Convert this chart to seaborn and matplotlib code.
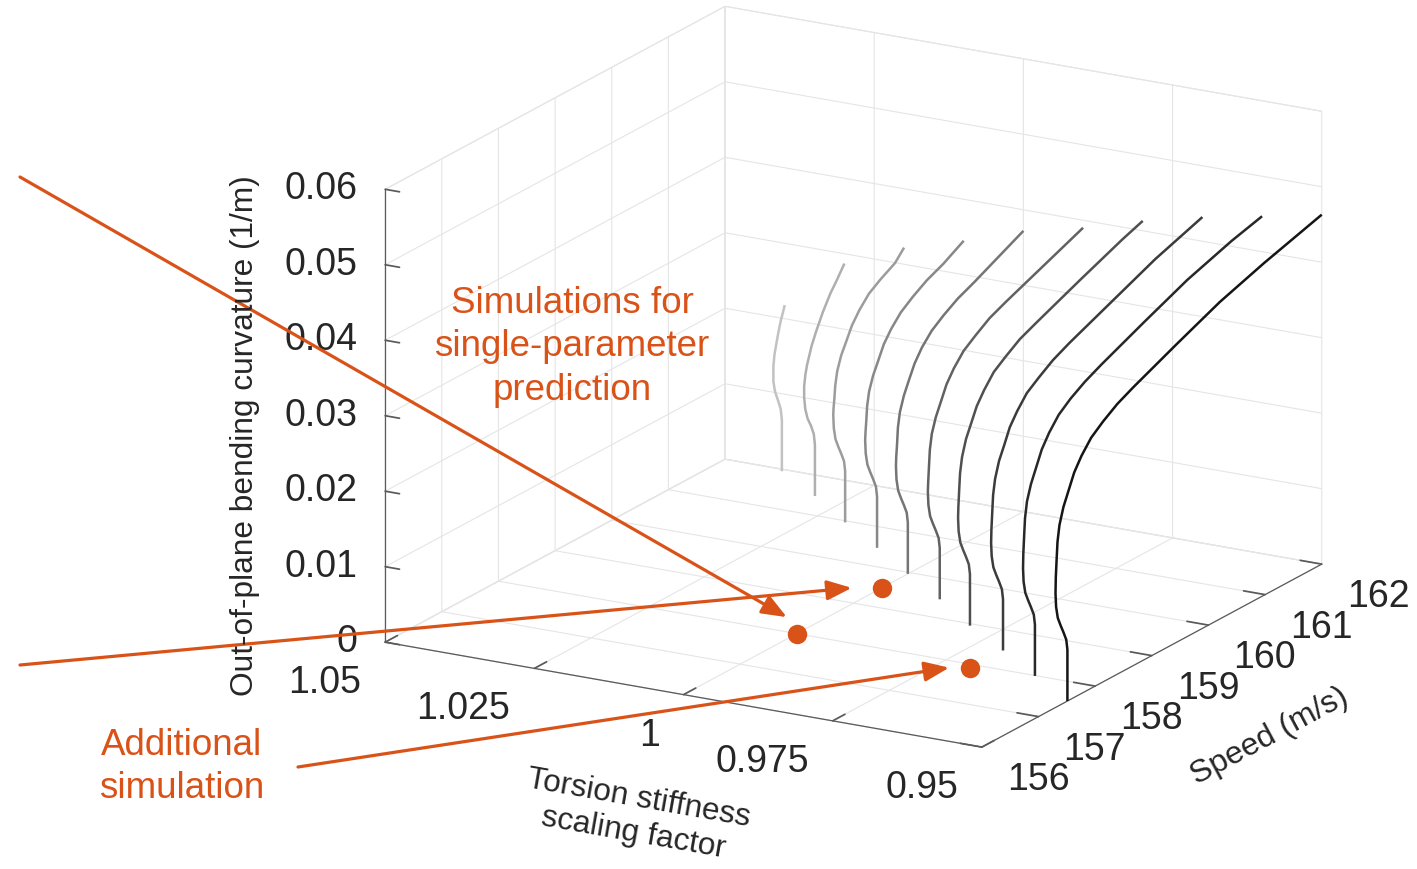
import numpy as np
import matplotlib
matplotlib.use("Agg")
import matplotlib.pyplot as plt
import seaborn as sns
from mpl_toolkits.mplot3d import proj3d

sns.set_theme(style="white")
plt.rcParams["font.family"] = ["Liberation Sans", "DejaVu Sans"]

# ---- data -------------------------------------------------------------
STIFFNESS = [1.04, 1.03, 1.02, 1.01, 1.00, 0.99, 0.98, 0.97, 0.96, 0.95]

SPEED_104 = [161.95, 161.95, 161.93, 161.88, 161.83, 161.80, 161.80, 161.82, 161.85, 161.89, 161.93, 161.97, 162.00]
CURV_104 = [0.0, 0.0068, 0.0083, 0.0097, 0.0110, 0.0125, 0.0145, 0.0160, 0.0172, 0.0187, 0.0200, 0.0210, 0.0218]

SPEED_103 = [161.48, 161.48, 161.46, 161.41, 161.35, 161.31, 161.29, 161.29, 161.31, 161.34, 161.38, 161.42,
             161.50, 161.62, 161.75, 161.88, 162.00]
CURV_103 = [0.0, 0.0068, 0.0083, 0.0096, 0.0108, 0.0122, 0.0138, 0.0153, 0.0167, 0.0179, 0.0190, 0.0201,
            0.0217, 0.0238, 0.0257, 0.0272, 0.0287]

SPEED_102 = [160.96, 160.96, 160.94, 160.89, 160.84, 160.79, 160.76, 160.75, 160.755, 160.77, 160.785, 160.82,
             160.89, 160.98, 161.08, 161.21, 161.38, 161.59, 161.84, 162.00]
CURV_102 = [0.0, 0.0068, 0.0082, 0.0094, 0.0105, 0.0117, 0.0133, 0.0151, 0.0159, 0.0172, 0.0188, 0.0206,
            0.0224, 0.0239, 0.0256, 0.0271, 0.0286, 0.0297, 0.0308, 0.0322]

SPEED_101 = [160.47, 160.47, 160.45, 160.40, 160.35, 160.30, 160.27, 160.26, 160.265, 160.28, 160.295, 160.33,
             160.40, 160.49, 160.59, 160.72, 160.89, 161.10, 161.35, 161.64, 162.00]
CURV_101 = [0.0, 0.0068, 0.0082, 0.0094, 0.0105, 0.0117, 0.0133, 0.0151, 0.0160, 0.0176, 0.0195, 0.0213,
            0.0231, 0.0247, 0.0265, 0.0280, 0.0295, 0.0307, 0.0319, 0.0329, 0.0345]

SPEED_100 = [159.96, 159.96, 159.94, 159.89, 159.84, 159.79, 159.76, 159.75, 159.755, 159.77, 159.785, 159.82,
             159.89, 159.98, 160.08, 160.21, 160.38, 160.59, 160.84, 161.13, 162.00]
CURV_100 = [0.0, 0.0068, 0.0082, 0.0094, 0.0105, 0.0117, 0.0133, 0.0151, 0.0163, 0.0180, 0.0201, 0.0220,
            0.0239, 0.0256, 0.0274, 0.0290, 0.0305, 0.0317, 0.0329, 0.0339, 0.0372]

SPEED_099 = [159.47, 159.47, 159.45, 159.40, 159.35, 159.30, 159.27, 159.26, 159.265, 159.28, 159.295, 159.33,
             159.40, 159.49, 159.59, 159.72, 159.89, 160.10, 160.35, 160.64, 161.40, 162.00]
CURV_099 = [0.0, 0.0068, 0.0082, 0.0094, 0.0105, 0.0117, 0.0133, 0.0151, 0.0162, 0.0184, 0.0205, 0.0225,
            0.0244, 0.0261, 0.0280, 0.0296, 0.0312, 0.0324, 0.0337, 0.0347, 0.0371, 0.0390]

SPEED_098 = [158.95, 158.95, 158.93, 158.88, 158.83, 158.78, 158.75, 158.74, 158.745, 158.76, 158.775, 158.81,
             158.88, 158.97, 159.07, 159.20, 159.37, 159.58, 159.83, 160.12, 160.88, 161.64, 162.00]
CURV_098 = [0.0, 0.0068, 0.0082, 0.0094, 0.0105, 0.0117, 0.0133, 0.0151, 0.0165, 0.0188, 0.0209, 0.0229,
            0.0250, 0.0267, 0.0286, 0.0302, 0.0319, 0.0331, 0.0344, 0.0354, 0.0379, 0.0403, 0.0413]

SPEED_097 = [158.48, 158.48, 158.46, 158.41, 158.36, 158.31, 158.28, 158.27, 158.275, 158.29, 158.305, 158.34,
             158.41, 158.50, 158.60, 158.73, 158.90, 159.11, 159.36, 159.65, 160.41, 161.17, 162.00]
CURV_097 = [0.0, 0.0068, 0.0082, 0.0094, 0.0105, 0.0117, 0.0133, 0.0151, 0.0168, 0.0191, 0.0213, 0.0233,
            0.0254, 0.0271, 0.0291, 0.0307, 0.0324, 0.0336, 0.0349, 0.0360, 0.0385, 0.0410, 0.0432]

SPEED_096 = [157.99, 157.99, 157.97, 157.92, 157.87, 157.82, 157.79, 157.78, 157.785, 157.80, 157.815, 157.85,
             157.92, 158.01, 158.11, 158.24, 158.41, 158.62, 158.87, 159.16, 159.92, 160.68, 161.46, 162.00]
CURV_096 = [0.0, 0.0068, 0.0082, 0.0094, 0.0105, 0.0117, 0.0133, 0.0151, 0.0170, 0.0194, 0.0216, 0.0237,
            0.0257, 0.0275, 0.0295, 0.0312, 0.0329, 0.0342, 0.0354, 0.0365, 0.0391, 0.0416, 0.0436, 0.0447]

SPEED_095 = [157.51, 157.51, 157.49, 157.44, 157.39, 157.34, 157.31, 157.30, 157.305, 157.32, 157.335, 157.37,
             157.44, 157.53, 157.63, 157.76, 157.93, 158.14, 158.39, 158.68, 159.44, 160.20, 160.98, 162.00]
CURV_095 = [0.0, 0.0068, 0.0082, 0.0094, 0.0105, 0.0117, 0.0133, 0.0151, 0.0172, 0.0196, 0.0218, 0.0239,
            0.0260, 0.0278, 0.0298, 0.0315, 0.0332, 0.0345, 0.0358, 0.0369, 0.0395, 0.0420, 0.0440, 0.0463]

CURVE_SPEEDS = [SPEED_104, SPEED_103, SPEED_102, SPEED_101, SPEED_100,
                SPEED_099, SPEED_098, SPEED_097, SPEED_096, SPEED_095]
CURVE_CURVS = [CURV_104, CURV_103, CURV_102, CURV_101, CURV_100,
               CURV_099, CURV_098, CURV_097, CURV_096, CURV_095]

# simulation points on the floor (stiffness, speed)
SINGLE_PARAM_PT = (1.00, 158.0)
EXTRA_PTS_STIFF = [1.00, 0.97]
EXTRA_PTS_SPEED = [159.5, 157.9]

X_TICKS = [1.05, 1.025, 1.0, 0.975, 0.95]
X_TICK_LABELS = ["1.05", "1.025", "1", "0.975", "0.95"]
Y_TICKS = [156, 157, 158, 159, 160, 161, 162]
Y_TICK_LABELS = ["156", "157", "158", "159", "160", "161", "162"]
Z_TICKS = [0, 0.01, 0.02, 0.03, 0.04, 0.05, 0.06]
Z_TICK_LABELS = ["0", "0.01", "0.02", "0.03", "0.04", "0.05", "0.06"]

# ---- style ------------------------------------------------------------
ORANGE = "#D95319"
TEXT = "#262626"
GRID = "#e5e5e5"
AXLINE = "#5a5a5a"
TICK_FS = 27
W, H = 1417, 869

fig = plt.figure(figsize=(W / 100, H / 100), dpi=100)
fig.patch.set_facecolor("white")
ax = fig.add_axes([0.1, 0.0, 0.85, 1.0], projection="3d", proj_type="ortho")
ax.view_init(elev=17.92, azim=-60.25)
ax.set_box_aspect((1.444, 1.439, 1.0))
ax.set_xlim(1.05, 0.95)
ax.set_ylim(156, 162)
ax.set_zlim(0, 0.06)

ax.set_xticks(X_TICKS)
ax.set_xticklabels([""] * len(X_TICKS))
ax.set_yticks(Y_TICKS)
ax.set_yticklabels([""] * len(Y_TICKS))
ax.set_zticks(Z_TICKS)
ax.set_zticklabels([""] * len(Z_TICKS))

# vertical axis on the front-left edge
ax.zaxis._axinfo["juggled"] = (1, 2, 0)

for axis in (ax.xaxis, ax.yaxis, ax.zaxis):
    axis.set_pane_color((1, 1, 1, 1))
    axis.pane.set_edgecolor(GRID)
    axis.pane.set_linewidth(0.8)
    axis._axinfo["grid"].update(color=GRID, linewidth=0.8, linestyle="-")
    axis._axinfo["tick"]["inward_factor"] = 0.0
    axis._axinfo["tick"]["outward_factor"] = 0.45
    axis.line.set_color(AXLINE)
    axis.line.set_linewidth(0.9)
ax.zaxis._axinfo["tick"]["inward_factor"] = 0.3
ax.zaxis._axinfo["tick"]["outward_factor"] = 0.0
ax.grid(True)
ax.tick_params(axis="both", colors=AXLINE)

# ---- curves -----------------------------------------------------------
shades = sns.blend_palette(["#c2c2c2", "#151515"], n_colors=len(STIFFNESS))
for k, sp, cv, col in zip(STIFFNESS, CURVE_SPEEDS, CURVE_CURVS, shades):
    ax.plot(np.full(len(sp), k), sp, cv, color=col, lw=1.8,
            solid_joinstyle="round", solid_capstyle="butt")

ax.plot([SINGLE_PARAM_PT[0]], [SINGLE_PARAM_PT[1]], [0.0], "o", ms=14,
        color=ORANGE, mec="none")
ax.plot(EXTRA_PTS_STIFF, EXTRA_PTS_SPEED, [0.0, 0.0], "o", ms=14,
        color=ORANGE, mec="none", ls="none")

# ---- place the box in the frame --------------------------------------
fig.canvas.draw()
corners = [(1.05, 156, 0), (0.95, 156, 0), (0.95, 162, 0), (1.05, 156, 0.06), (1.05, 162, 0.06)]
frame = np.array([(385, 642), (982, 747), (1322, 564), (385, 189), (725, 7)], float)
frame[:, 1] = H - frame[:, 1]
M = ax.get_proj()
pts = []
for cx, cy, cz in corners:
    px, py, _ = proj3d.proj_transform(cx, cy, cz, M)
    pts.append(ax.transData.transform((px, py)))
pts = np.array(pts)
bb = ax.get_position().transformed(fig.transFigure)
c_old = np.array([bb.x0 + bb.width / 2, bb.y0 + bb.height / 2])
q = (pts - c_old) / bb.width
A = np.zeros((2 * len(q), 3))
A[0::2, 0] = 1
A[1::2, 1] = 1
A[0::2, 2] = q[:, 0]
A[1::2, 2] = q[:, 1]
sol, *_ = np.linalg.lstsq(A, frame.flatten(), rcond=None)
ncx, ncy, side = sol
ax.set_position([(ncx - side / 2) / W, (ncy - side / 2) / H, side / W, side / H])
fig.canvas.draw()


def to_pixels(k, s, z=0.0):
    px, py, _ = proj3d.proj_transform(k, s, z, ax.get_proj())
    return ax.transData.transform((px, py))


# ---- tick labels, anchored to the projected tick positions ------------
lbl_kw = dict(xycoords="figure pixels", textcoords="offset pixels",
              fontsize=TICK_FS, color=TEXT, annotation_clip=False)
for val, txt in zip(X_TICKS, X_TICK_LABELS):
    ax.annotate(txt, xy=to_pixels(val, 156, 0), xytext=(-24, -41),
                ha="right", va="center", **lbl_kw)
for val, txt in zip(Y_TICKS, Y_TICK_LABELS):
    ax.annotate(txt, xy=to_pixels(0.95, val, 0), xytext=(25, -33),
                ha="left", va="center", **lbl_kw)
for val, txt in zip(Z_TICKS, Z_TICK_LABELS):
    ax.annotate(txt, xy=to_pixels(1.05, 156, val), xytext=(-28, 0),
                ha="right", va="center", **lbl_kw)

# ---- axis titles ------------------------------------------------------
fig.text(245 / W, 1 - 436 / H, "Out-of-plane bending curvature (1/m)", rotation=90,
         ha="center", va="center", fontsize=22.8, color=TEXT, rotation_mode="anchor")
fig.text(636 / W, 1 - 816 / H, "Torsion stiffness\nscaling factor", rotation=-10,
         ha="center", va="center", fontsize=22.8, color=TEXT, rotation_mode="anchor",
         multialignment="center", linespacing=1.2)
fig.text(1270 / W, 1 - 736 / H, "Speed (m/s)", rotation=28.3,
         ha="center", va="center", fontsize=23, color=TEXT, rotation_mode="anchor")

# ---- annotations ------------------------------------------------------
fig.text(572 / W, 1 - 347 / H, "Simulations for\nsingle-parameter\nprediction",
         ha="center", va="center", fontsize=26.5, color=ORANGE, linespacing=1.32)
fig.text(182 / W, 1 - 767 / H, "Additional\nsimulation",
         ha="center", va="center", fontsize=26.5, color=ORANGE, linespacing=1.32)

arrow_kw = dict(arrowstyle="-|>,head_length=0.75,head_width=0.3", color=ORANGE,
                lw=2.3, shrinkA=0, shrinkB=0, mutation_scale=20)


def arrow_to(k, s, gap, start):
    tip = to_pixels(k, s) + np.array(gap)
    ax.annotate("", xy=tip, xycoords="figure pixels",
                xytext=(start[0], H - start[1]), textcoords="figure pixels",
                arrowprops=arrow_kw, annotation_clip=False)


arrow_to(*SINGLE_PARAM_PT, gap=(-10, 16.5), start=(20, 177))
arrow_to(EXTRA_PTS_STIFF[0], EXTRA_PTS_SPEED[0], gap=(-30, 0), start=(20, 665))
arrow_to(EXTRA_PTS_STIFF[1], EXTRA_PTS_SPEED[1], gap=(-21, 0.5), start=(298, 767))

fig.savefig("out.png", dpi=100, facecolor="white")
